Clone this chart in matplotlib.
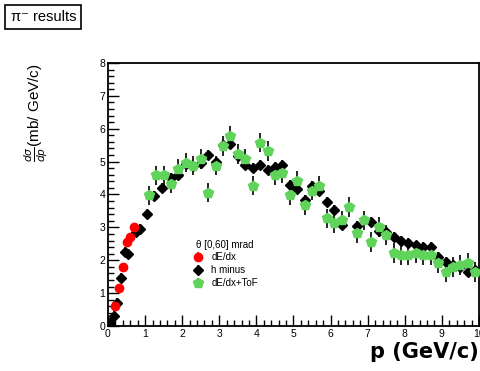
import matplotlib
matplotlib.use("Agg")
import matplotlib.pyplot as plt
from matplotlib.ticker import MultipleLocator

plt.rcParams["font.family"] = ["Liberation Sans", "DejaVu Sans"]

# dE/dx (red)
p_red = [0.2, 0.3, 0.4, 0.5, 0.6, 0.7]
v_red = [0.6, 1.15, 1.8, 2.55, 2.7, 3.0]
e_red = [0.1, 0.1, 0.12, 0.12, 0.12, 0.12]

# h minus (black)
p_blk = [0.05, 0.15, 0.25, 0.35, 0.45, 0.55, 0.75, 0.85, 1.05, 1.25, 1.45,
         1.7, 1.9, 2.1, 2.3, 2.5, 2.7, 2.9, 3.1, 3.3, 3.5, 3.7, 3.9, 4.1,
         4.3, 4.5, 4.7, 4.9, 5.1, 5.3, 5.5, 5.7, 5.9, 6.1, 6.3, 6.7, 7.1,
         7.3, 7.5, 7.7, 7.9, 8.1, 8.3, 8.5, 8.7, 8.9, 9.1, 9.3, 9.5, 9.7, 9.9]
v_blk = [0.1, 0.3, 0.7, 1.45, 2.25, 2.2, 2.85, 2.95, 3.4, 3.95, 4.2,
         4.5, 4.6, 4.94, 4.88, 4.97, 5.2, 5.0, 5.5, 5.55, 5.18, 4.9, 4.82, 4.9,
         4.75, 4.85, 4.9, 4.3, 4.18, 3.82, 4.25, 4.1, 3.76, 3.52, 3.06, 3.03, 3.15,
         2.9, 2.85, 2.7, 2.6, 2.52, 2.45, 2.4, 2.39, 2.1, 1.94, 1.85, 1.8, 1.64, 1.7]
e_blk = [0.15] * len(p_blk)

# dE/dx+ToF (green)
p_grn = [1.1, 1.3, 1.5, 1.7, 1.9, 2.1, 2.3, 2.5, 2.7, 2.9, 3.1, 3.3, 3.5,
         3.7, 3.9, 4.1, 4.3, 4.5, 4.7, 4.9, 5.1, 5.3, 5.5, 5.7, 5.9, 6.1,
         6.3, 6.5, 6.7, 6.9, 7.1, 7.3, 7.5, 7.7, 7.9, 8.1, 8.3, 8.5, 8.7,
         8.9, 9.1, 9.3, 9.5, 9.7, 9.9]
v_grn = [3.97, 4.58, 4.58, 4.33, 4.79, 4.97, 4.88, 5.09, 4.06, 4.88, 5.48,
         5.79, 5.24, 5.09, 4.27, 5.58, 5.33, 4.58, 4.64, 3.97, 4.42, 3.67,
         4.12, 4.27, 3.27, 3.12, 3.21, 3.61, 2.82, 3.21, 2.55, 3.0, 2.76,
         2.21, 2.15, 2.15, 2.21, 2.15, 2.15, 1.91, 1.64, 1.79, 1.85, 1.91, 1.64]
e_grn = [0.3] * len(p_grn)

green = "#5fd35a"

fig = plt.figure(figsize=(4.81, 3.71), dpi=100)
ax = fig.add_axes([0.2245, 0.1213, 0.7713, 0.709])

ax.errorbar(p_blk, v_blk, yerr=e_blk, fmt="D", color="black", ms=5,
            elinewidth=1.2, capsize=0, label="h minus", zorder=2)
ax.errorbar(p_grn, v_grn, yerr=e_grn, fmt="p", color=green, ecolor="black",
            ms=7.5, elinewidth=1.2, capsize=0, label="dE/dx+ToF", zorder=3)
ax.errorbar(p_red, v_red, yerr=e_red, fmt="o", color="red", ms=6,
            elinewidth=1.2, capsize=0, label="dE/dx", zorder=4)

ax.set_xlim(0, 10)
ax.set_ylim(0, 8)
ax.xaxis.set_major_locator(MultipleLocator(1))
ax.xaxis.set_minor_locator(MultipleLocator(0.2))
ax.yaxis.set_major_locator(MultipleLocator(1))
ax.yaxis.set_minor_locator(MultipleLocator(0.2))
ax.tick_params(which="both", direction="in", top=False, right=False,
               labelsize=7.5, width=1, pad=2)
ax.tick_params(which="major", length=8)
ax.tick_params(which="minor", length=4)
for s in ax.spines.values():
    s.set_linewidth(1.3)

ax.set_xlabel("p (GeV/c)", fontsize=15, fontweight="bold", loc="right",
              family="DejaVu Sans", labelpad=2)
ax.set_ylabel(r"$\frac{d\sigma}{dp}$(mb/ GeV/c)", fontsize=11, loc="top")
ax.yaxis.set_label_coords(-0.155, 1.0)

handles, labels = ax.get_legend_handles_labels()
order = [2, 0, 1]
leg = ax.legend([handles[i] for i in order], [labels[i] for i in order],
                title="θ [0,60] mrad", loc="lower left",
                bbox_to_anchor=(0.2, 0.11), frameon=False, fontsize=7,
                title_fontsize=7, handletextpad=0.6, labelspacing=0.3,
                handlelength=1.5)

fig.text(0.022, 0.944, "π⁻ results", fontsize=10.5,
         bbox=dict(boxstyle="square,pad=0.35", fc="white", ec="black", lw=1.2))

fig.savefig("out.png", dpi=100)
